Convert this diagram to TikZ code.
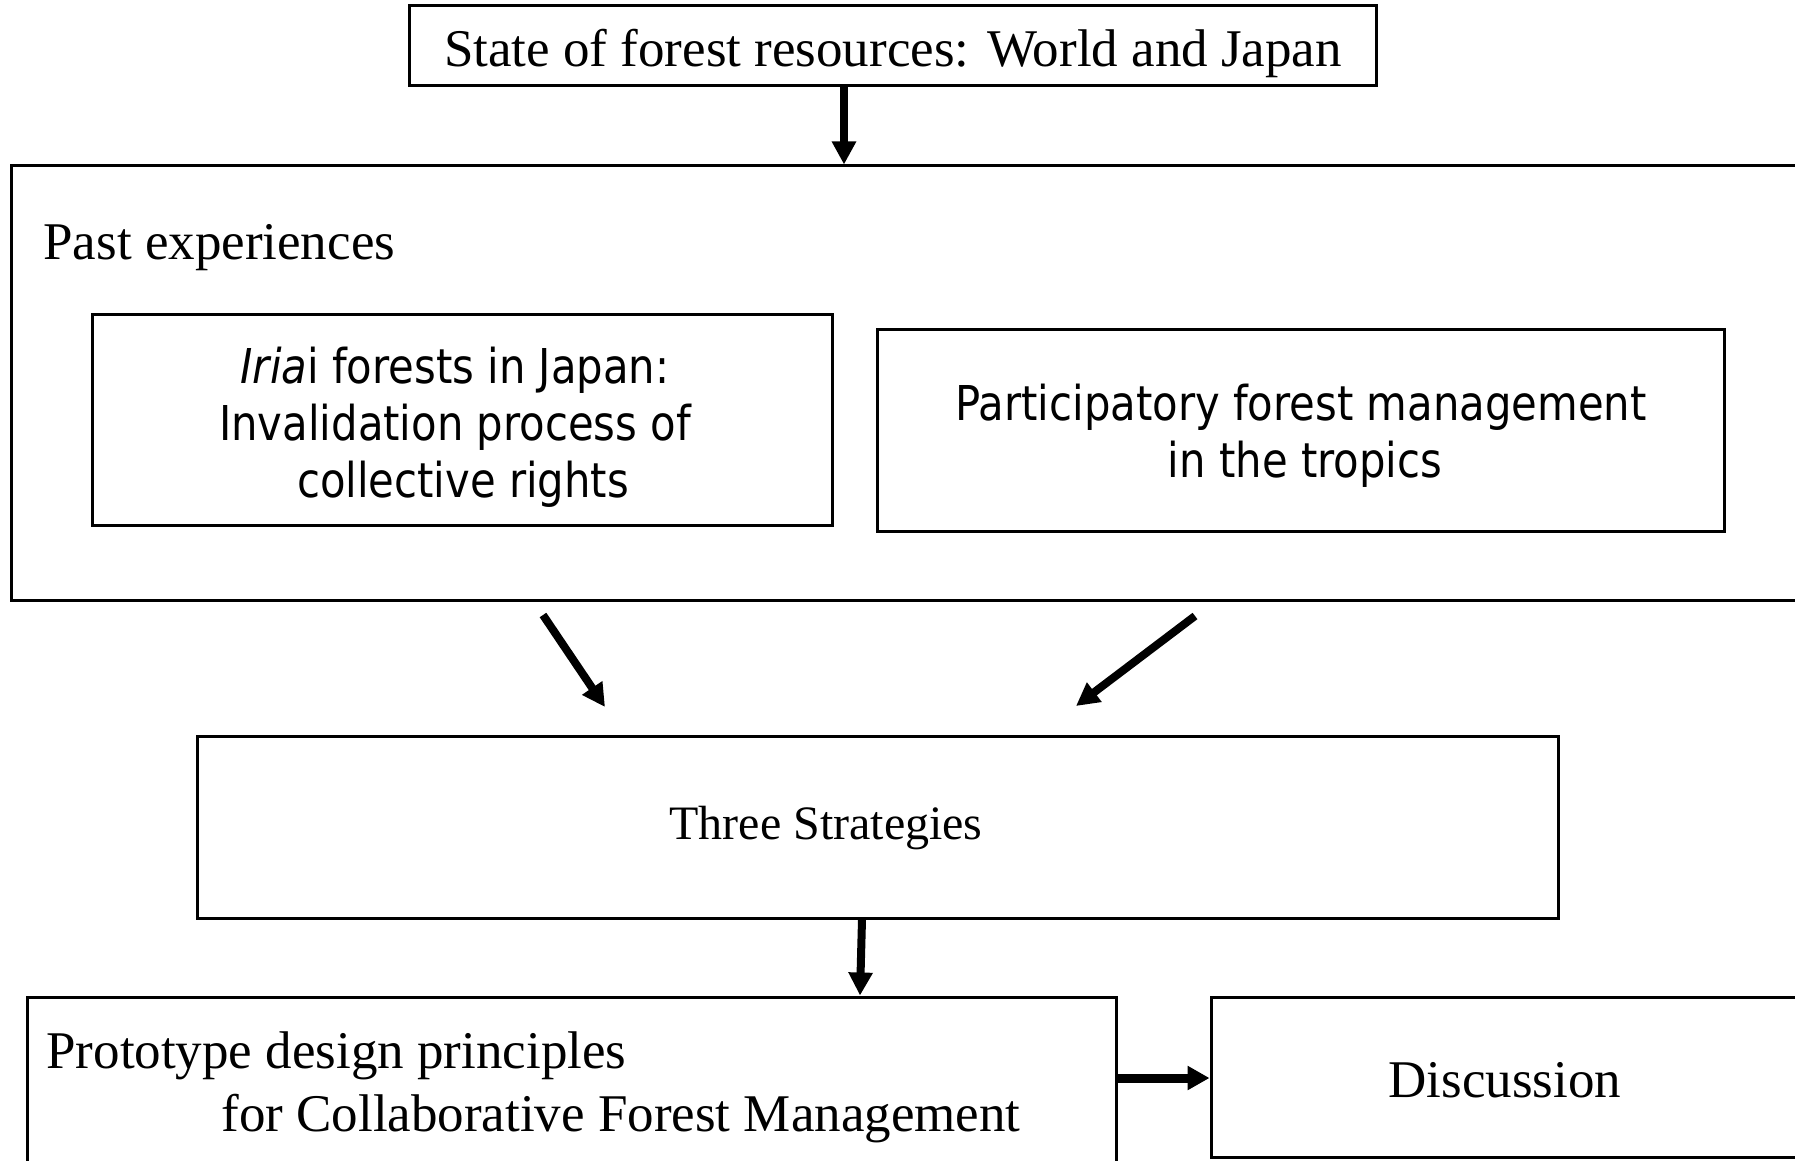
\documentclass[tikz,border=0pt]{standalone}
\usepackage{fontspec}
\setmainfont{Liberation Serif}
\newfontfamily\tahoma[FakeStretch=0.87]{DejaVu Sans}
\usetikzlibrary{arrows.meta}
\begin{document}
\begin{tikzpicture}[x=0.5pt,y=-0.5pt,
  box/.style={draw,line width=1.5pt,rectangle,inner sep=0pt},
  serif/.style={font=\fontsize{26.5}{32}\selectfont,inner sep=0pt},
  sans/.style={font=\tahoma\fontsize{24}{28.6}\selectfont,align=center,inner sep=0pt},
  arr/.style={line width=4pt,-{Triangle[length=11.5pt,width=11.5pt]}},
  harr/.style={line width=4.5pt,-{Triangle[length=11pt,width=11.5pt]}}]
\useasboundingbox (0,0) rectangle (1795,1161);
\fill[white] (0,0) rectangle (1795,1161);
\clip (0,0) rectangle (1795,1161);
% boxes
\node[box,minimum width=483.5pt,minimum height=40pt] (top) at (892.5,46) {};
\node[box,minimum width=899.5pt,minimum height=217pt] (past) at (910.5,383) {};
\node[box,minimum width=370pt,minimum height=105.5pt] (iriai) at (462,419.5) {};
\node[box,minimum width=423.5pt,minimum height=101pt] (part) at (1300.5,430) {};
\node[box,minimum width=680.5pt,minimum height=91pt] (three) at (877.5,827) {};
\node[box,minimum width=544.5pt,minimum height=115pt] (proto) at (571.5,1112) {};
\node[box,minimum width=299.5pt,minimum height=80pt] (disc) at (1510.5,1077) {};
% texts
\node[serif] (toptext) at (893,53) {State of forest resources: World and Japan};
\node[serif,anchor=west] (pasttext) at (43,248) {Past experiences};
\node[sans] (iriaitext) at (455,427) {\textit{Iria}i forests in Japan:\\Invalidation process of\\\hspace{8pt}collective rights};
\node[sans] (parttext) at (1301,436) {Participatory forest management\\\hspace{4pt}in the tropics};
\node[serif,font=\fontsize{24}{29}\selectfont] (threetext) at (826,828) {Three Strategies};
\node[serif,anchor=west] (protoA) at (46,1056) {Prototype design principles};
\node[serif,anchor=west] (protoB) at (221,1119) {for Collaborative Forest Management};
\node[serif] (disctext) at (1505,1080) {Discussion};
% connector coordinates
\coordinate (c1) at (844,0);
\coordinate (d1s) at (543,615);
\coordinate (d1e) at (605,707);
\coordinate (d2s) at (1195,616);
\coordinate (d2e) at (1076,706);
\coordinate (c3s) at (862,0);
\coordinate (c3e) at (860,0);
\coordinate (c4) at (0,1078);
% connectors
\draw[arr] (top.south -| c1) -- (past.north -| c1);
\draw[arr] (d1s) -- (d1e);
\draw[arr] (d2s) -- (d2e);
\draw[arr] (three.south -| c3s) -- (proto.north -| c3e);
\draw[harr] (proto.east |- c4) -- (disc.west |- c4);
\end{tikzpicture}
\end{document}
